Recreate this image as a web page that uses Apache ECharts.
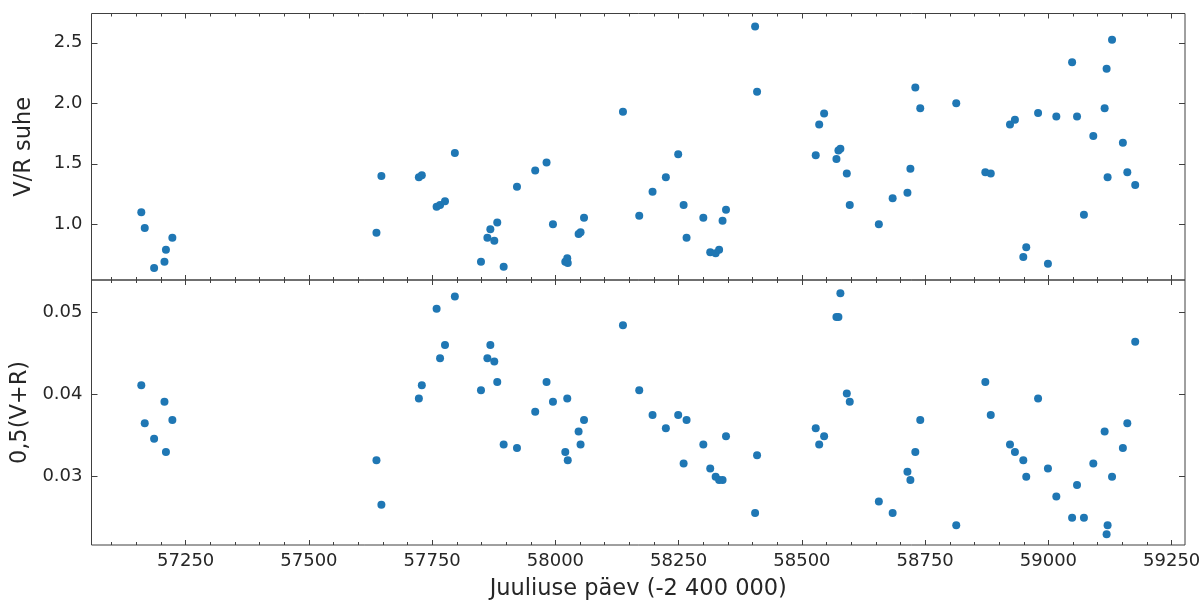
<!DOCTYPE html>
<html>
<head>
<meta charset="utf-8">
<script src="https://cdn.jsdelivr.net/npm/echarts@6/dist/echarts.min.js"></script>
<style>html,body{margin:0;padding:0;background:#fff}#c{width:1204px;height:602px}</style>
</head>
<body>
<div id="c"></div>
<script>
// Julian day (-2 400 000)
const jd = [57160,57167,57186,57207,57210,57223,57637,57647,57723,57729,
  57759,57766,57776,57796,57849,57862,57868,57876,57882,57895,
  57922,57959,57982,57995,58020,58024,58025,58047,58051,58058,
  58137,58170,58197,58224,58249,58260,58266,58300,58314,58325,
  58332,58339,58346,58405,58409,58528,58535,58545,58570,58574,
  58578,58591,58597,58656,58684,58714,58720,58730,58740,58813,
  58872,58883,58922,58932,58949,58955,58979,58999,59016,59048,
  59058,59072,59091,59114,59118,59120,59129,59151,59160,59176];
// V/R ratio
const vrRatio = [1.10,0.97,0.64,0.69,0.79,0.89,0.93,1.40,1.39,1.405,
  1.145,1.16,1.19,1.59,0.69,0.89,0.96,0.865,1.015,0.65,
  1.31,1.445,1.51,1.00,0.69,0.72,0.68,0.92,0.935,1.055,
  1.93,1.07,1.27,1.39,1.58,1.16,0.89,1.055,0.77,0.76,
  0.79,1.03,1.12,2.635,2.095,1.57,1.825,1.915,1.54,1.61,
  1.625,1.42,1.16,1.00,1.215,1.26,1.46,2.13,1.96,2.00,
  1.43,1.42,1.825,1.865,0.73,0.81,1.92,0.675,1.89,2.34,
  1.89,1.08,1.73,1.96,2.285,1.39,2.525,1.675,1.43,1.325];
// 0.5(V+R)
const halfSum = [0.0411,0.0365,0.0346,0.0391,0.0330,0.0369,0.0320,0.0266,0.0395,0.0411,
  0.0504,0.0444,0.0460,0.0519,0.0405,0.0444,0.0460,0.0440,0.0415,0.0339,
  0.0335,0.0379,0.0415,0.0391,0.0330,0.0395,0.0320,0.0355,0.0339,0.0369,
  0.0484,0.0405,0.0375,0.0359,0.0375,0.0316,0.0369,0.0339,0.0310,0.0300,
  0.0296,0.0296,0.0349,0.0256,0.0326,0.0359,0.0339,0.0349,0.0494,0.0494,
  0.0523,0.0401,0.0391,0.0270,0.0256,0.0306,0.0296,0.0330,0.0369,0.0241,
  0.0415,0.0375,0.0339,0.0330,0.0320,0.0300,0.0395,0.0310,0.0276,0.0250,
  0.0290,0.0250,0.0316,0.0355,0.0230,0.0241,0.0300,0.0335,0.0365,0.0464];

const xMajorTicks = [57250,57500,57750,58000,58250,58500,58750,59000,59250];
const xMinorTicks = [];
for (let v = 57100; v <= 59250; v += 50) xMinorTicks.push(v);
const vrTicks = [1.0,1.5,2.0,2.5];
const sumTicks = [0.03,0.04,0.05];

const xMin = 57059, xMax = 59277;
const FONT = 'DejaVu Sans';
const TXT = '#262626';
const LINE = '#404040';

function xAx(grid, pos, ticks, len, labels, name) {
  return {
    type: 'value', gridIndex: grid, position: pos, min: xMin, max: xMax,
    axisLine: {show: false, onZero: false},
    splitLine: {show: false},
    axisTick: {show: true, inside: true, length: len, customValues: ticks, lineStyle: {color: LINE, width: 1}},
    axisLabel: labels ? {show: true, customValues: ticks, margin: 7, color: TXT, fontFamily: FONT, fontSize: 18,
      formatter: v => String(v)} : {show: false},
    name: name || '', nameLocation: 'middle', nameGap: 33,
    nameTextStyle: {color: TXT, fontFamily: FONT, fontSize: 22.5}
  };
}
function yAx(grid, pos, min, max, ticks, labels, dec, name) {
  return {
    type: 'value', gridIndex: grid, position: pos, min: min, max: max,
    axisLine: {show: false, onZero: false},
    splitLine: {show: false},
    axisTick: {show: true, inside: true, length: 6, customValues: ticks, lineStyle: {color: LINE, width: 1}},
    axisLabel: labels ? {show: true, customValues: ticks, margin: 9, color: TXT, fontFamily: FONT, fontSize: 18,
      formatter: v => v.toFixed(dec)} : {show: false},
    name: name || '', nameLocation: 'middle', nameRotate: 90, nameGap: 56,
    nameTextStyle: {color: TXT, fontFamily: FONT, fontSize: 22.5}
  };
}

const chart = echarts.init(document.getElementById('c'), null, {renderer: 'canvas'});
chart.setOption({
  animation: false,
  backgroundColor: '#fff',
  grid: [
    {left: 91.5, right: 19, top: 13.5, height: 266.5, show: true, borderColor: LINE, borderWidth: 1, backgroundColor: 'transparent'},
    {left: 91.5, right: 19, top: 280, height: 266.5, show: true, borderColor: LINE, borderWidth: 1, backgroundColor: 'transparent'}
  ],
  xAxis: [
    xAx(0, 'bottom', xMajorTicks, 5, false),
    xAx(0, 'top', xMajorTicks, 5, false),
    xAx(0, 'bottom', xMinorTicks, 3, false),
    xAx(0, 'top', xMinorTicks, 3, false),
    xAx(1, 'bottom', xMajorTicks, 5, true, 'Juuliuse päev (-2 400 000)'),
    xAx(1, 'top', xMajorTicks, 5, false),
    xAx(1, 'bottom', xMinorTicks, 3, false),
    xAx(1, 'top', xMinorTicks, 3, false)
  ],
  yAxis: [
    yAx(0, 'left', 0.540, 2.742, vrTicks, true, 1, 'V/R suhe'),
    yAx(0, 'right', 0.540, 2.742, vrTicks, false, 1),
    yAx(1, 'left', 0.0217, 0.0539, sumTicks, true, 2, '0,5(V+R)'),
    yAx(1, 'right', 0.0217, 0.0539, sumTicks, false, 2)
  ],
  series: [
    {type: 'scatter', xAxisIndex: 0, yAxisIndex: 0, symbol: 'circle', symbolSize: 8,
      itemStyle: {color: '#1f77b4', opacity: 1},
      data: jd.map((d, i) => [d, vrRatio[i]])},
    {type: 'scatter', xAxisIndex: 4, yAxisIndex: 2, symbol: 'circle', symbolSize: 8,
      itemStyle: {color: '#1f77b4', opacity: 1},
      data: jd.map((d, i) => [d, halfSum[i]])}
  ]
});
</script>
</body>
</html>
